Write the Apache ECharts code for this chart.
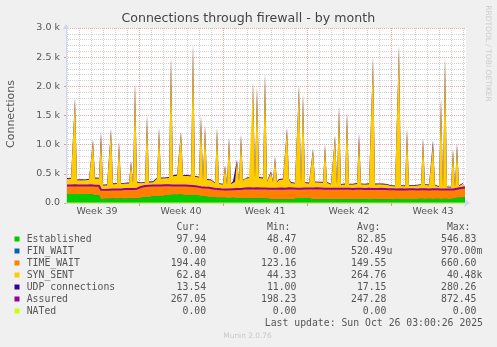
<!DOCTYPE html>
<html><head><meta charset="utf-8">
<script src="https://cdn.jsdelivr.net/npm/echarts@6/dist/echarts.min.js"></script>
<style>html,body{margin:0;padding:0;background:#f0f0f0}#c{width:497px;height:347px}</style>
</head><body><div id="c"></div>
<script>
// ---- data: one sample every 4 hours over the 800 h window ----
const established = [
155,156,154,157,155,153,156,158,155,152,154,156,150,138,135,134,132,70,72,74,
75,73,76,78,75,74,77,76,78,75,77,79,76,78,80,77,79,92,96,98,
100,99,112,115,117,116,118,115,119,130,134,138,140,142,145,143,141,144,140,138,
137,135,136,134,135,133,130,118,114,110,106,104,101,100,92,90,89,91,88,90,
89,87,90,88,86,87,82,80,81,79,78,80,82,79,80,78,77,79,80,78,
76,74,64,62,60,61,63,62,61,60,62,63,61,60,84,86,88,85,83,86,
84,82,66,64,63,62,65,64,62,63,66,64,62,61,63,65,64,62,63,64,
66,65,63,62,64,66,65,63,62,64,65,67,66,64,63,65,66,64,63,62,
64,66,68,67,66,65,69,70,68,67,66,68,70,69,67,68,70,72,71,69,
70,71,69,70,72,73,71,70,72,74,72,70,71,73,85,88,90,92,95,98];
const finWait = [
0,0,0,0,0,0,0,0,0,0,0,0,0,0,0,0,0,0,0,0,
0,0,0,0,0,0,0,0,0,0,0,0,0,0,0,0,0,0,0,0,
0,0,0,0,0,0,0,0,0,0,0,0,0,0,0,0,0,0,0,0,
0,0,0,0,0,0,0,0,0,0,0,0,0,0,0,0,0,0,0,0,
0,0,0,0,0,0,0,0,0,0,0,0,0,0,0,0,0,0,0,0,
0,0,0,0,0,0,0,0,0,0,0,0,0,0,0,0,0,0,0,0,
0,0,0,0,0,0,0,0,0,0,0,0,0,0,0,0,0,0,0,0,
0,0,0,0,0,0,0,0,0,0,0,0,0,0,0,0,0,0,0,0,
0,0,0,0,0,0,0,0,0,0,0,0,0,0,0,0,0,0,0,0,
0,0,0,0,0,0,0,0,0,0,0,0,0,0,0,0,0,0,0,0];
const timeWait = [
133,134,132,134,138,135,130,132,133,133,135,135,143,150,149,152,151,146,138,139,
139,143,139,140,145,145,145,145,146,151,148,149,154,151,152,157,157,171,177,180,
180,183,172,171,168,172,172,174,168,161,159,154,150,146,146,146,145,144,150,149,
148,148,145,144,140,138,136,142,142,143,144,144,145,138,138,136,134,131,132,131,
130,131,130,134,138,139,146,150,152,157,160,160,156,158,159,163,163,159,156,157,
157,157,168,172,173,170,172,175,175,174,176,177,178,177,151,147,144,149,153,152,
153,153,168,172,175,178,174,173,173,171,167,168,169,172,172,169,168,169,167,168,
168,167,169,166,168,170,167,168,165,164,166,165,167,163,165,162,164,167,166,165,
162,158,154,156,155,155,153,154,155,154,153,155,154,156,154,152,153,152,155,156,
153,150,151,152,152,150,150,149,146,146,150,151,148,147,141,145,150,160,178,194];
const synSent = [
125,128,130,126,1490,100,104,101,99,103,105,108,130,780,138,140,136,944,90,88,
92,91,1040,105,108,106,815,104,107,109,106,108,465,115,1813,118,116,75,70,72,
1205,71,73,70,74,128,985,130,134,132,136,138,2195,172,175,178,180,917,176,174,
178,180,176,2427,175,172,170,1215,148,1062,146,150,145,140,110,1049,102,100,98,414,
100,897,106,138,140,502,145,929,148,180,185,188,190,1818,186,1734,188,190,185,1970,
130,128,288,125,552,126,160,165,168,166,1037,162,105,100,98,102,1773,100,1619,103,
99,101,112,679,116,115,113,117,114,754,115,112,86,83,910,85,1423,82,84,86,
1311,85,92,88,90,91,910,89,92,90,88,91,93,2256,90,88,91,92,89,90,
87,88,70,68,66,69,2463,67,69,66,1040,68,70,67,65,80,82,85,876,84,
81,83,86,793,82,50,48,1557,47,2265,49,51,48,689,46,772,50,52,56,63];
const udp = [
15,16,15,14,16,17,15,16,15,14,15,16,17,16,15,14,15,60,14,13,
14,13,14,15,14,13,14,15,14,13,14,15,25,14,15,16,15,14,15,16,
16,17,16,15,16,17,18,17,16,15,16,17,16,17,18,17,16,17,16,15,
16,15,16,17,16,15,16,15,14,15,14,13,14,13,12,13,14,13,14,13,
14,13,14,15,14,15,14,15,16,15,16,17,16,15,16,17,16,15,16,15,
16,15,25,15,14,15,16,17,16,15,16,15,14,15,14,15,16,15,14,15,
14,15,14,15,16,15,14,15,14,13,14,15,14,13,14,15,14,13,14,15,
14,13,14,15,14,15,60,14,13,14,15,14,13,14,15,14,13,14,15,14,
13,12,13,12,13,12,11,12,13,12,13,12,13,12,13,12,13,14,13,14,
13,14,13,60,13,12,13,12,13,12,13,12,13,12,13,14,13,14,13,14];
const assured = [
300,302,298,303,305,300,298,302,300,297,301,303,305,300,296,298,295,228,222,225,
226,228,227,230,232,231,234,233,236,238,237,240,242,241,244,246,248,275,285,290,
292,294,296,298,297,300,302,301,299,303,305,304,302,300,303,301,298,300,302,299,
297,295,293,290,287,283,278,272,268,265,262,260,258,250,242,238,235,234,232,233,
231,230,232,234,236,238,240,242,245,248,250,252,250,249,251,253,252,250,248,247,
245,243,244,246,245,243,247,249,248,246,250,252,251,249,247,245,244,246,248,250,
249,247,246,248,250,252,251,249,247,246,245,244,243,245,247,246,244,243,242,244,
246,245,243,242,244,246,245,243,241,240,242,244,243,241,240,239,241,243,242,240,
238,236,234,235,233,232,234,236,235,233,232,234,236,235,233,232,234,236,238,237,
235,233,232,234,236,235,233,231,230,232,234,233,231,232,238,245,252,258,263,267];
const nated = [
0,0,0,0,0,0,0,0,0,0,0,0,0,0,0,0,0,0,0,0,
0,0,0,0,0,0,0,0,0,0,0,0,0,0,0,0,0,0,0,0,
0,0,0,0,0,0,0,0,0,0,0,0,0,0,0,0,0,0,0,0,
0,0,0,0,0,0,0,0,0,0,0,0,0,0,0,0,0,0,0,0,
0,0,0,0,0,0,0,0,0,0,0,0,0,0,0,0,0,0,0,0,
0,0,0,0,0,0,0,0,0,0,0,0,0,0,0,0,0,0,0,0,
0,0,0,0,0,0,0,0,0,0,0,0,0,0,0,0,0,0,0,0,
0,0,0,0,0,0,0,0,0,0,0,0,0,0,0,0,0,0,0,0,
0,0,0,0,0,0,0,0,0,0,0,0,0,0,0,0,0,0,0,0,
0,0,0,0,0,0,0,0,0,0,0,0,0,0,0,0,0,0,0,0];

const sampleStartHour = 2;
const sampleStepHours = 4;
const spanHours = 800;
const dayLineOffsetHours = 2;
const weekStartHours = [146, 314, 482, 650];
const weekLabelHours = [62, 230, 398, 566, 734];
const weekLabels = ['Week 39', 'Week 40', 'Week 41', 'Week 42', 'Week 43'];

const legendNames = ['Established', 'FIN_WAIT', 'TIME_WAIT', 'SYN_SENT', 'UDP connections', 'Assured', 'NATed'];
const legendColors = ['#00CC00', '#0066B3', '#FF8000', '#FFCC00', '#330099', '#990099', '#CCFF00'];
const curVals = ['97.94', '0.00', '194.40', '62.84', '13.54', '267.05', '0.00'];
const minVals = ['48.47', '0.00', '123.16', '44.33', '11.00', '198.23', '0.00'];
const avgVals = ['82.85', '520.49u', '149.55', '264.76', '17.15', '247.28', '0.00'];
const maxVals = ['546.83', '970.00m', '660.60', '40.48k', '280.26', '872.45', '0.00'];
const statHeaders = ['Cur:', 'Min:', 'Avg:', 'Max:'];

// ---- build (stacked totals computed from the arrays above) ----
const stackedInputs = [established, finWait, timeWait, synSent, udp];
const cumulative = [];
stackedInputs.forEach((arr, k) => {
  cumulative.push(arr.map((v, i) => v + (k ? cumulative[k - 1][i] : 0)));
});
const pts = arr => arr.map((v, i) => [sampleStartHour + i * sampleStepHours, v]);
const hourCats = [];
for (let h = 0; h <= spanHours; h++) hourCats.push(String(h));

const SANS = 'DejaVu Sans';
const MONO = 'DejaVu Sans Mono';
const TXT = '#555555';

function area(k, extra) {
  const color = legendColors[k];
  return Object.assign({
    type: 'line', name: legendNames[k], data: pts(cumulative[k]), symbol: 'none',
    xAxisIndex: 0, yAxisIndex: 0, animation: false,
    lineStyle: { width: 0, color }, itemStyle: { color },
    areaStyle: { color, opacity: 1 }
  }, extra || {});
}

// painter's order: highest stacked total first
const series = [
  area(4),
  area(3),
  area(2),
  area(1),
  area(0),
  { type: 'line', name: 'Assured', data: pts(assured), symbol: 'none', animation: false,
    lineStyle: { width: 2, color: legendColors[5] }, itemStyle: { color: legendColors[5] } },
  { type: 'line', name: 'NATed', data: pts(nated), symbol: 'none', animation: false,
    lineStyle: { width: 1, color: legendColors[6] }, itemStyle: { color: legendColors[6] } }
];

// legend table graphics
const graphic = [];
const colStart = [170.7, 261, 351, 441];
const charW = 5.88;
const monoSize = 9.8;
const rowY0 = 239.5, rowH = 12;
function txt(x, y, text, o) {
  return { type: 'text', x, y, silent: true, style: Object.assign({
    text, fill: TXT, fontFamily: MONO, fontSize: monoSize,
    align: 'left', verticalAlign: 'middle', textAlign: 'left', textVerticalAlign: 'middle'
  }, o || {}) };
}
statHeaders.forEach((h, c) => graphic.push(txt(colStart[c] + charW, 227.5, h)));
function field(v) {
  const m = v.match(/^([0-9.]+)([a-zA-Z]?)$/);
  return m[1].padStart(6, ' ') + (m[2] || ' ');
}
legendNames.forEach((n, r) => {
  const y = rowY0 + r * rowH;
  graphic.push({ type: 'rect', silent: true, shape: { x: 14.5, y: y - 3, width: 5, height: 5 },
    style: { fill: legendColors[r], stroke: null } });
  graphic.push(txt(26.7, y, n));
  [curVals, minVals, avgVals, maxVals].forEach((arr, c) => {
    graphic.push(txt(colStart[c], y, field(arr[r])));
  });
});
graphic.push(txt(483, 323.5, 'Last update: Sun Oct 26 03:00:26 2025', { align: 'right', textAlign: 'right' }));
graphic.push(txt(247.5, 336, 'Munin 2.0.76', { fontFamily: SANS, fontSize: 7.4, fill: '#c8c8c8', align: 'center', textAlign: 'center' }));
graphic.push(txt(248.3, 19, 'Connections through firewall - by month', { fontFamily: SANS, fontSize: 12.6, fill: '#444444', align: 'center', textAlign: 'center' }));
graphic.push(Object.assign(txt(10.7, 114, 'Connections', { fontFamily: SANS, fontSize: 11, align: 'center', textAlign: 'center' }), { rotation: Math.PI / 2 }));
graphic.push(Object.assign(txt(487.5, 53.5, 'RRDTOOL / TOBI OETIKER', { fontFamily: SANS, fontSize: 7.5, fill: '#cccccc', align: 'center', textAlign: 'center' }), { rotation: -Math.PI / 2 }));

const chart = echarts.init(document.getElementById('c'), null, { renderer: 'canvas' });
chart.setOption({
  backgroundColor: '#f0f0f0',
  animation: false,
  grid: { left: 66, top: 28, width: 400, height: 175, show: true, backgroundColor: '#ffffff', borderWidth: 0 },
  xAxis: [
    { type: 'value', min: 0, max: spanHours, position: 'bottom',
      axisLine: { show: true, lineStyle: { color: '#CFD6F8', width: 1 }, symbol: ['none', 'arrow'], symbolSize: [6, 6], symbolOffset: [0, 4] },
      axisTick: { show: false }, axisLabel: { show: false }, splitLine: { show: false } },
    { type: 'category', data: hourCats, boundaryGap: false, position: 'bottom',
      axisLine: { show: false }, axisTick: { show: false }, axisLabel: { show: false },
      splitLine: { show: true, interval: (i) => i > 0 && i < spanHours && (i - dayLineOffsetHours) % 24 === 0 && weekStartHours.indexOf(i) < 0,
        lineStyle: { color: '#d2d2d2', type: 'dotted', width: 1 } } },
    { type: 'category', data: hourCats, boundaryGap: false, position: 'bottom',
      axisLine: { show: false },
      axisTick: { show: true, interval: (i) => weekStartHours.indexOf(i) >= 0, length: 3, lineStyle: { color: '#e59a9a' } },
      axisLabel: { show: true, interval: (i) => weekLabelHours.indexOf(i) >= 0, margin: 4,
        formatter: (v) => { const k = weekLabelHours.indexOf(Number(v)); return k >= 0 ? weekLabels[k] : ''; },
        color: TXT, fontFamily: SANS, fontSize: 9.5 },
      splitLine: { show: true, interval: (i) => weekStartHours.indexOf(i) >= 0,
        lineStyle: { color: '#eba5a5', type: 'dotted', width: 1 } } }
  ],
  yAxis: [{
    type: 'value', min: 0, max: 3000, interval: 500,
    axisLine: { show: true, lineStyle: { color: '#CFD6F8', width: 1 }, symbol: ['none', 'arrow'], symbolSize: [6, 6], symbolOffset: [0, 4] },
    axisTick: { show: true, length: 2, lineStyle: { color: '#e59a9a' } },
    axisLabel: { margin: 6, color: TXT, fontFamily: SANS, fontSize: 9.5,
      formatter: v => v === 0 ? '0.0' : (v / 1000).toFixed(1) + ' k' },
    splitLine: { show: true, lineStyle: { color: '#eba5a5', type: 'dotted', width: 1 } },
    minorTick: { show: false, splitNumber: 5 },
    minorSplitLine: { show: true, lineStyle: { color: '#d2d2d2', type: 'dotted', width: 1 } }
  }],
  series,
  graphic
});
</script></body></html>
